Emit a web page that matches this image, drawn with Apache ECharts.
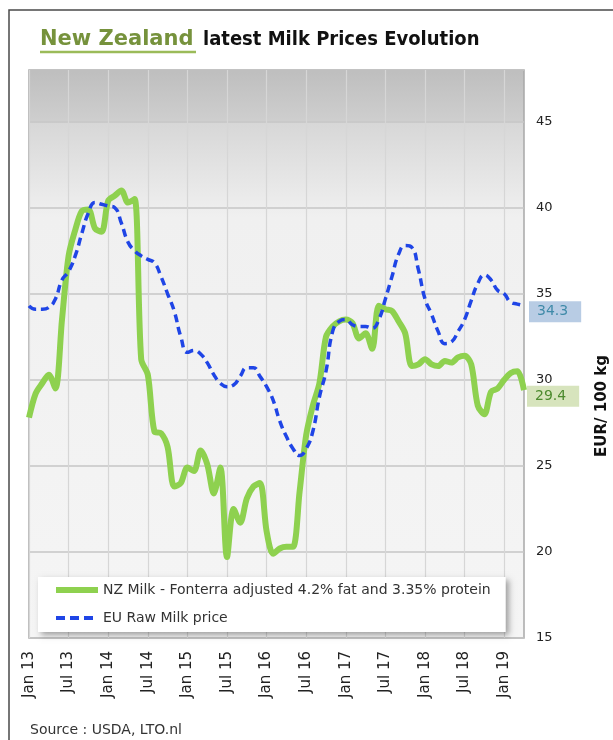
<!DOCTYPE html>
<html><head><meta charset="utf-8">
<script src="https://cdn.jsdelivr.net/npm/echarts@6/dist/echarts.min.js"></script>
<style>html,body{margin:0;padding:0;background:#fff}#c{width:613px;height:740px}</style>
</head><body><div id="c"></div>
<script>
// Month categories Jan 2013 .. Apr 2019
const monthNames = ['Jan','Feb','Mar','Apr','May','Jun','Jul','Aug','Sep','Oct','Nov','Dec'];
const years = ['13','14','15','16','17','18','19'];
const categories = [];
years.forEach(y => monthNames.forEach((m, i) => { if (y !== '19' || i < 4) categories.push(m + ' ' + y); }));

// NZ Milk - Fonterra adjusted (EUR/100 kg)
const nzMilk = [27.8,29.2,29.8,30.3,29.5,33.5,37.2,38.7,39.8,39.9,
  38.8,38.6,40.4,40.7,41.0,40.3,40.5,31.2,30.3,27.0,
  26.9,26.1,23.8,24.0,24.9,24.7,25.9,25.1,23.4,24.9,
  19.7,22.5,21.7,23.1,23.8,24.0,21.2,19.9,20.2,20.3,
  20.3,23.5,26.8,28.5,29.8,32.5,33.1,33.4,33.5,33.3,
  32.4,32.7,31.8,34.3,34.1,34.0,33.4,32.7,30.8,30.9,
  31.2,30.9,30.8,31.1,31.0,31.3,31.4,30.9,28.5,28.0,
  29.3,29.5,30.0,30.4,30.5,29.4];
// EU Raw Milk price (EUR/100 kg)
const euMilk = [34.3,34.1,34.1,34.2,34.7,35.8,36.3,37.2,38.5,39.7,
  40.3,40.2,40.1,40.0,39.1,38.0,37.5,37.2,37.0,36.8,
  36.0,35.0,34.0,32.5,31.6,31.7,31.5,31.0,30.3,29.8,
  29.6,29.7,30.2,30.7,30.7,30.2,29.6,28.8,27.6,26.7,
  26.0,25.6,26.0,27.0,29.0,30.5,32.8,33.4,33.5,33.2,
  33.1,33.1,33.0,33.5,34.7,36.0,37.3,37.8,37.7,36.4,
  34.7,33.8,32.8,32.1,32.2,32.8,33.5,34.6,35.6,36.1,
  35.8,35.2,35.0,34.5,34.4,34.3];

const seriesNames = ['NZ Milk - Fonterra adjusted 4.2% fat and 3.35% protein', 'EU Raw Milk price'];
const FONT = 'DejaVu Sans';
const GREEN = '#8ed14f', BLUE = '#1f45e6';

const chart = echarts.init(document.getElementById('c'), null, {renderer: 'canvas'});
chart.setOption({
  animation: false,
  grid: {
    left: 29, top: 70, right: 89, bottom: 102, show: true,
    borderColor: '#a8a8a8', borderWidth: 1.5,
    backgroundColor: {type: 'linear', x: 0, y: 0, x2: 0, y2: 1, colorStops: [
      {offset: 0, color: '#bebebe'}, {offset: 0.09, color: '#cecece'},
      {offset: 0.095, color: '#d7d7d7'}, {offset: 0.26, color: '#f0f0f0'},
      {offset: 1, color: '#f5f5f5'}]}
  },
  legend: {
    orient: 'vertical', left: 38, top: 577,
    padding: [6, 15, 7, 15], itemGap: 14, itemWidth: 42, itemHeight: 14,
    backgroundColor: '#fff', shadowBlur: 6, shadowColor: 'rgba(0,0,0,0.35)',
    shadowOffsetX: 3, shadowOffsetY: 3,
    itemStyle: {opacity: 0},
    textStyle: {fontFamily: FONT, fontSize: 14, color: '#333'},
    data: [
      {name: seriesNames[0], lineStyle: {width: 6, color: GREEN}},
      {name: seriesNames[1], lineStyle: {width: 4, color: BLUE, type: [9, 5]}}
    ]
  },
  xAxis: {
    type: 'category', data: categories, boundaryGap: false,
    axisLine: {show: false}, axisTick: {show: false},
    axisLabel: {interval: 5, rotate: 90, margin: 13, fontFamily: FONT, fontSize: 15, color: '#222'},
    splitLine: {show: true, interval: 5, lineStyle: {color: '#d6d6d6', width: 1.2}}
  },
  yAxis: {
    type: 'value', position: 'right', min: 15, max: 48, interval: 5,
    axisLine: {show: false}, axisTick: {show: false},
    axisLabel: {margin: 12, fontFamily: FONT, fontSize: 13, color: '#222',
      formatter: v => (v % 5 === 0 ? String(v) : '')},
    splitLine: {show: true, lineStyle: {color: '#c6c6c6', width: 1.5}}
  },
  series: [
    {
      name: seriesNames[0], type: 'line', data: nzMilk, symbol: 'none', smooth: 0.3,
      lineStyle: {color: GREEN, width: 6}, itemStyle: {color: GREEN}, z: 3,
      endLabel: {show: true, distance: 3, offset: [0, 6], formatter: p => p.value.toFixed(1),
        backgroundColor: '#d7e4bd', color: '#4c8a2e', fontFamily: FONT, fontSize: 14,
        padding: [4, 13, 3, 8]}
    },
    {
      name: seriesNames[1], type: 'line', data: euMilk, symbol: 'none', smooth: 0.5,
      lineStyle: {color: BLUE, width: 3.5, type: [8, 5]}, itemStyle: {color: BLUE}, z: 4,
      endLabel: {show: true, distance: 5, offset: [0, 6], formatter: p => p.value.toFixed(1),
        backgroundColor: '#b8cce4', color: '#3f8aa8', fontFamily: FONT, fontSize: 14,
        padding: [4, 13, 3, 8]}
    }
  ],
  graphic: [
    {type: 'rect', shape: {x: 9, y: 10, width: 700, height: 800}, style: {fill: 'none', stroke: '#4a4a4a', lineWidth: 1.5}, silent: true, z: -1},
    {type: 'text', x: 40, y: 40, style: {text: 'New Zealand', fill: '#76923c', font: 'bold 21px "DejaVu Sans"', verticalAlign: 'middle'}},
    {type: 'line', shape: {x1: 40, y1: 52, x2: 196, y2: 52}, style: {stroke: '#9bbb59', lineWidth: 2.5}},
    {type: 'text', x: 203, y: 40, style: {text: 'latest Milk Prices Evolution', fill: '#111', font: 'bold 20px "DejaVu Sans Condensed", "DejaVu Sans"', verticalAlign: 'middle'}},
    {type: 'text', x: 602, y: 406, rotation: Math.PI / 2, style: {text: 'EUR/ 100 kg', fill: '#111', font: 'bold 15px "DejaVu Sans"', align: 'center', verticalAlign: 'middle'}},
    {type: 'text', x: 30, y: 730, style: {text: 'Source : USDA, LTO.nl', fill: '#333', font: '14px "DejaVu Sans"', verticalAlign: 'middle'}}
  ]
});
</script></body></html>
